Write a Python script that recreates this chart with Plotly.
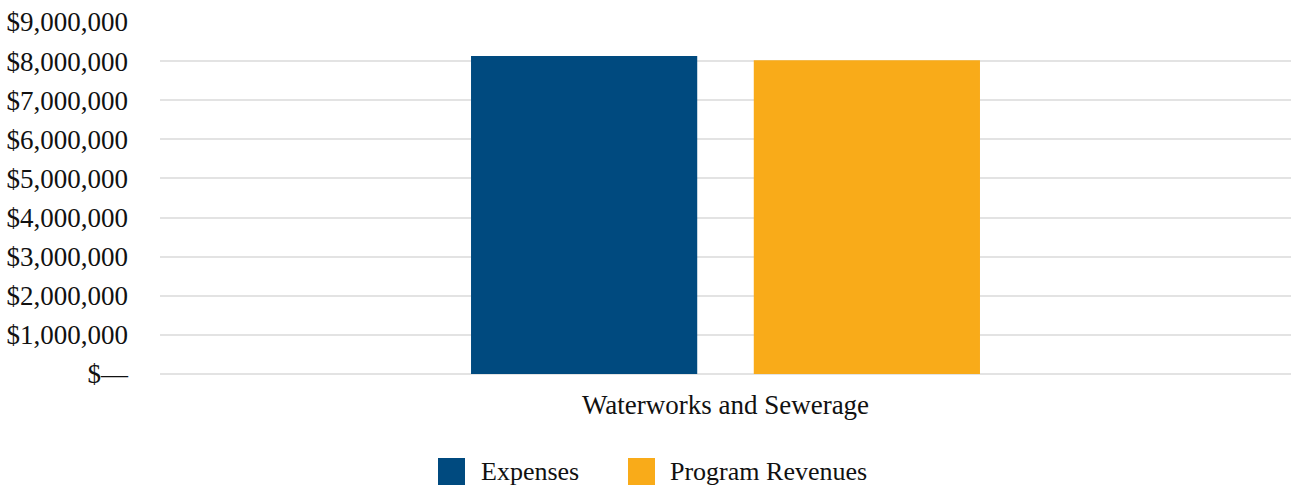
import plotly.graph_objects as go

categories = ["Waterworks and Sewerage"]
expenses = [8130000]
program_revenues = [8020000]
series_names = ["Expenses", "Program Revenues"]
series_colors = ["#004a7f", "#f9ab19"]
tick_vals = [0, 1000000, 2000000, 3000000, 4000000, 5000000, 6000000, 7000000, 8000000, 9000000]
tick_text = ["$—", "$1,000,000", "$2,000,000", "$3,000,000", "$4,000,000",
             "$5,000,000", "$6,000,000", "$7,000,000", "$8,000,000", "$9,000,000"]

font_family = "Liberation Serif"
fsize = 27
lsize = 26
txt_color = "#111111"

fig = go.Figure()
fig.add_trace(go.Bar(name=series_names[0], x=categories, y=expenses,
                     marker_color=series_colors[0], marker_line_width=0, showlegend=False))
fig.add_trace(go.Bar(name=series_names[1], x=categories, y=program_revenues,
                     marker_color=series_colors[1], marker_line_width=0, showlegend=False))

# Manual legend (paper coordinates: plot area spans x 160..1291, y 22..374 px)
def px_x(p):
    return (p - 160) / 1131.0

def px_y(p):
    return (374 - p) / 352.0

legend_items = [(438, 479), (628, 668)]
shapes = []
annotations = []
for (sq_x, tx), name, col in zip(legend_items, series_names, series_colors):
    shapes.append(dict(type="rect", xref="paper", yref="paper",
                       x0=px_x(sq_x), x1=px_x(sq_x + 27), y0=px_y(485), y1=px_y(458),
                       fillcolor=col, line_width=0))
    annotations.append(dict(xref="paper", yref="paper", x=px_x(tx), y=px_y(471),
                            xanchor="left", yanchor="middle", showarrow=False, text=name,
                            font=dict(family=font_family, size=lsize, color=txt_color)))

fig.update_layout(
    width=1291, height=487,
    margin=dict(l=160, r=0, t=22, b=113),
    paper_bgcolor="white", plot_bgcolor="white",
    barmode="group", bargap=0.5, bargroupgap=0.2,
    font=dict(family=font_family, size=fsize, color=txt_color),
    showlegend=False,
    shapes=shapes, annotations=annotations,
    yaxis=dict(range=[0, 9000000], tickvals=tick_vals, ticktext=tick_text,
               showgrid=True, gridcolor="#e3e3e3", gridwidth=2,
               zeroline=True, zerolinecolor="#e3e3e3", zerolinewidth=2,
               showline=False, ticklabelstandoff=31,
               tickfont=dict(size=fsize, family=font_family, color=txt_color)),
    xaxis=dict(showline=False, showgrid=False, ticklabelstandoff=12,
               tickfont=dict(size=fsize, family=font_family, color=txt_color)),
)

fig.write_html("out.html")
